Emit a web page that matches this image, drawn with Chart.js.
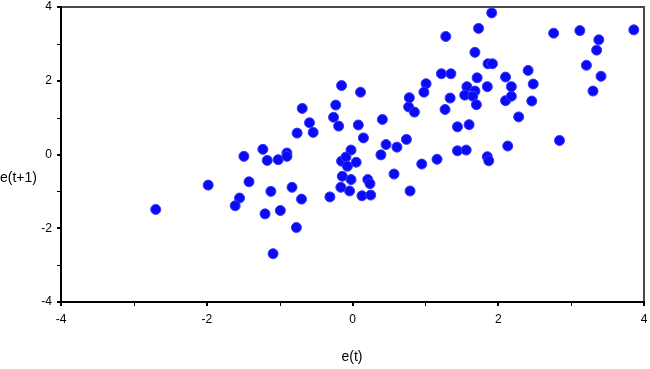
<!DOCTYPE html>
<html>
<head>
<meta charset="utf-8">
<script src="https://cdn.jsdelivr.net/npm/chart.js@4/dist/chart.umd.min.js"></script>
<style>
  html, body { margin: 0; padding: 0; background: #ffffff; }
  #wrap { width: 650px; height: 369px; position: relative; }
</style>
</head>
<body>
<div id="wrap"><canvas id="c"></canvas></div>
<script>
// e(t) values
const eT = [
  -2.70, -1.98, -1.42, -1.55, -1.61, -1.12, -0.83, -0.70, -1.20, -0.99,
  -0.77, -1.09, -1.49, -1.23, -1.17, -1.02, -0.90, -0.90, -0.76, -0.69,
  -0.59, -0.54, -0.23, -0.26, -0.19, -0.15, 0.11, 0.08, 0.15, 0.41,
  0.46, 0.61, 0.74, 0.39, -0.02, -0.15, -0.09, -0.07, 0.05, -0.14,
  -0.02, 0.21, 0.24, 0.57, 0.95, 1.16, -0.16, -0.04, 0.13, 0.25,
  -0.31, 0.79, 0.77, 0.85, 0.78, 1.27, 1.28, 1.73, 1.91, 1.68,
  1.86, 1.92, 1.22, 1.35, 1.71, 1.01, 0.98, 2.10, 2.18, 2.10,
  2.18, 1.85, 1.57, 1.68, 1.54, 1.65, 1.34, 1.70, 2.41, 2.46,
  2.48, 2.28, 1.44, 1.60, 2.84, 2.13, 1.44, 1.56, 1.85, 1.87,
  2.76, 3.12, 3.86, 3.38, 3.35, 3.21, 3.41, 3.30
];
// e(t+1) values
const eT1 = [
  -1.49, -0.83, -0.74, -1.18, -1.39, -1.00, -0.89, -1.21, -1.61, -1.52,
  -1.98, -2.69, -0.05, 0.14, -0.16, -0.14, 0.04, -0.05, 0.58, 1.25,
  0.86, 0.60, 1.34, 1.01, 0.77, 1.87, 1.69, 0.80, 0.45, 0.95,
  0.27, 0.20, 0.41, -0.01, 0.12, -0.18, -0.07, -0.32, -0.21, -0.59,
  -0.68, -0.68, -0.79, -0.53, -0.26, -0.13, -0.89, -0.99, -1.12, -1.10,
  -1.15, -0.99, 1.29, 1.15, 1.54, 1.22, 3.20, 3.42, 3.84, 2.77,
  2.46, 2.46, 2.19, 2.19, 2.08, 1.92, 1.69, 2.10, 1.84, 1.46,
  1.58, 1.84, 1.84, 1.72, 1.61, 1.58, 1.53, 1.35, 2.28, 1.45,
  1.91, 1.02, 0.75, 0.81, 0.38, 0.23, 0.10, 0.12, -0.06, -0.17,
  3.29, 3.36, 3.38, 3.11, 2.83, 2.42, 2.12, 1.72
];
const axisMin = -4, axisMax = 4;
const tickValues = [-4, -3, -2, -1, 0, 1, 2, 3, 4];
const xTitle = 'e(t)';
const yTitle = 'e(t+1)';

const points = eT.map((x, i) => ({ x: x, y: eT1[i] }));

const frame = {
  id: 'frame',
  afterDraw(chart) {
    const { ctx, chartArea: a } = chart;
    const xs = chart.scales.x, ys = chart.scales.y;
    const L = Math.round(a.left), R = Math.round(a.right);
    const T = Math.round(a.top), B = Math.round(a.bottom);
    ctx.save();
    // top and right frame (dark gray)
    ctx.fillStyle = '#4a4a4a';
    ctx.fillRect(L, T - 1, R - L + 1, 2);
    ctx.fillRect(R - 1, T - 1, 2, B - T + 2);
    // left and bottom axis (black)
    ctx.fillStyle = '#000000';
    ctx.fillRect(L - 1, T - 1, 2, B - T + 2);
    ctx.fillRect(L - 1, B - 1, R - L + 2, 2);
    // tick marks
    tickValues.forEach(v => {
      const major = v % 2 === 0;
      const w = major ? 2 : 1;
      const px = Math.round(xs.getPixelForValue(v));
      ctx.fillRect(px - (major ? 1 : 0), B + 1, w, 3);
      const py = Math.round(ys.getPixelForValue(v));
      ctx.fillRect(L - 4, py - (major ? 1 : 0), 3, w);
    });
    // titles
    ctx.fillStyle = '#000000';
    ctx.font = '14px "Liberation Sans", Arial, sans-serif';
    ctx.textBaseline = 'middle';
    ctx.textAlign = 'left';
    ctx.fillText(yTitle, 0, 178);
    ctx.textAlign = 'center';
    ctx.fillText(xTitle, 352, 357);
    ctx.restore();
  }
};

const tickCb = v => (Math.round(v) % 2 === 0 ? String(Math.round(v)) : '');

new Chart(document.getElementById('c'), {
  type: 'scatter',
  data: {
    datasets: [{
      data: points,
      backgroundColor: 'rgb(10,10,245)',
      borderColor: 'rgb(55,55,255)',
      borderWidth: 1,
      pointRadius: 5,
      pointHoverRadius: 5,
      clip: false
    }]
  },
  options: {
    responsive: true,
    maintainAspectRatio: false,
    animation: false,
    layout: { padding: { top: 7, right: 4, left: 0, bottom: 0 } },
    plugins: { legend: { display: false }, tooltip: { enabled: false } },
    scales: {
      x: {
        type: 'linear',
        min: axisMin, max: axisMax,
        afterFit(s) { s.height = 67; s.paddingLeft = 0; s.paddingRight = 0; },
        border: { display: false },
        grid: { display: true, drawOnChartArea: false, drawTicks: true, tickLength: 3, color: 'rgba(0,0,0,0)' },
        ticks: {
          stepSize: 1, autoSkip: false, maxRotation: 0, padding: 7,
          color: '#000',
          font: { family: '"Liberation Sans", Arial, sans-serif', size: 12 },
          callback: tickCb
        }
      },
      y: {
        type: 'linear',
        min: axisMin, max: axisMax,
        afterFit(s) { s.width = 61; s.paddingTop = 0; s.paddingBottom = 0; },
        border: { display: false },
        grid: { display: true, drawOnChartArea: false, drawTicks: true, tickLength: 3, color: 'rgba(0,0,0,0)' },
        ticks: {
          stepSize: 1, autoSkip: false, padding: 6,
          color: '#000',
          font: { family: '"Liberation Sans", Arial, sans-serif', size: 12 },
          callback: tickCb
        }
      }
    }
  },
  plugins: [frame]
});
</script>
</body>
</html>
